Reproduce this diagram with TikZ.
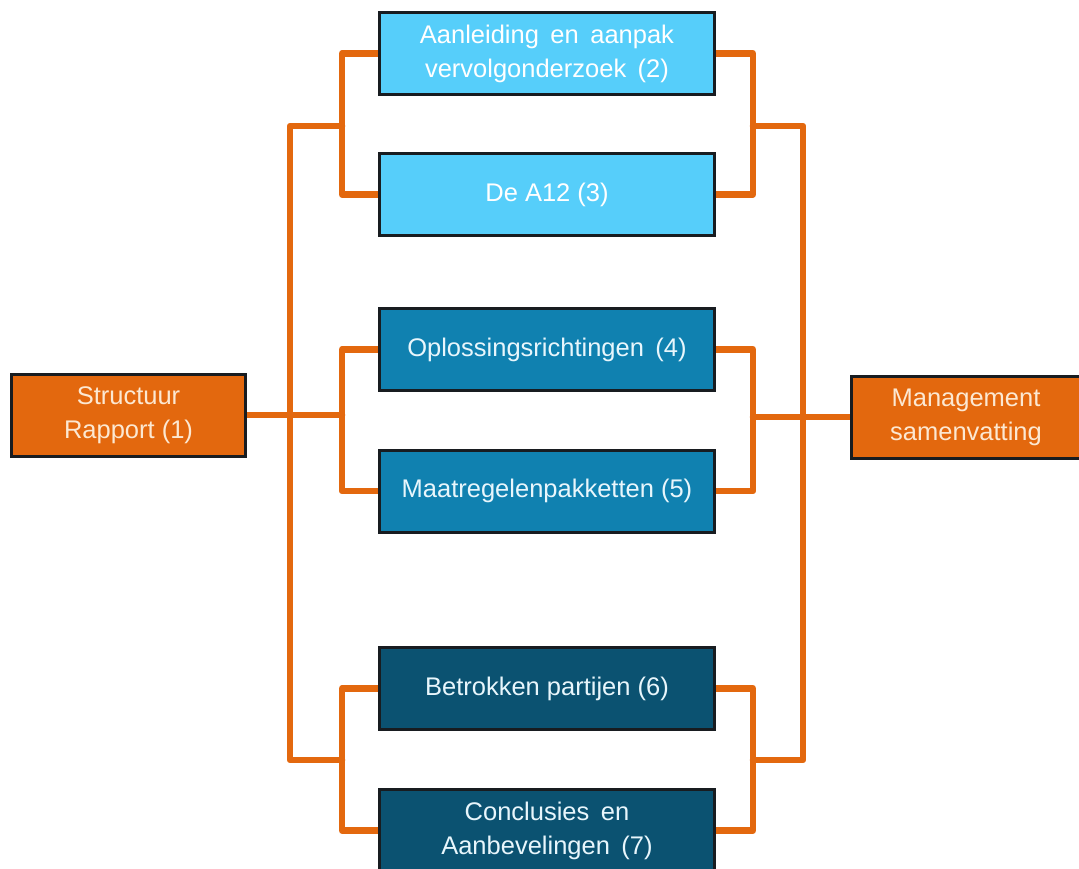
\documentclass[tikz,border=0pt]{standalone}
\usepackage{fontspec}
\setmainfont{Liberation Sans}
\definecolor{orng}{RGB}{227,104,14}
\definecolor{lblue}{RGB}{86,206,250}
\definecolor{mblue}{RGB}{16,129,176}
\definecolor{dblue}{RGB}{11,82,113}
\definecolor{bord}{RGB}{24,28,32}
\definecolor{cream}{RGB}{252,232,210}
\definecolor{paleb}{RGB}{232,246,252}
\newcommand\wsp{\hspace{11.5pt}}
\pgfdeclarelayer{background}
\pgfsetlayers{background,main}
\begin{document}
\begin{tikzpicture}[x=1pt,y=-1pt,
  box/.style={draw=bord, line width=3pt, minimum width=335pt, minimum height=82pt,
    inner sep=2pt, align=center, font=\fontsize{25.5}{34}\selectfont, text=white},
  conn/.style={draw=orng, line width=6.5pt, line join=round, line cap=round}]
\useasboundingbox (0,0) rectangle (1079,868);
\clip (0,0) rectangle (1079,868);

% side boxes
\node[box, fill=orng, text=cream, minimum width=234pt] (s) at (128.5,415) {Structuur\\Rapport (1)};
\node[box, fill=orng, text=cream, minimum width=229pt] (m) at (966,417) {Management\\samenvatting};

% middle column
\node[box, fill=lblue] (b2) at (547,53.5) {Aanleiding\wsp en\wsp aanpak\\vervolgonderzoek\wsp (2)};
\node[box, fill=lblue] (b3) at (547,194.5) {De A12 (3)};
\node[box, fill=mblue, text=paleb] (b4) at (547,349.5) {Oplossingsrichtingen\wsp (4)};
\node[box, fill=mblue, text=paleb] (b5) at (547,491) {Maatregelenpakketten (5)};
\node[box, fill=dblue, text=paleb] (b6) at (547,688.5) {Betrokken partijen (6)};
\node[box, fill=dblue, text=paleb] (b7) at (547,830.5) {Conclusies\wsp en\\Aanbevelingen\wsp (7)};

% junctions
\coordinate (jl1) at (342,126);
\coordinate (jl2) at (342,414);
\coordinate (jl3) at (342,760);
\coordinate (lo1) at (290,126);
\coordinate (lo3) at (290,760);
\coordinate (jr1) at (753,126);
\coordinate (jr2) at (753,417);
\coordinate (jr3) at (753,760);
\coordinate (ro1) at (803,126);
\coordinate (ro3) at (803,760);

\begin{pgfonlayer}{background}
\fill[white] (0,0) rectangle (1079,868);
% left side
\draw[conn] (b2.west) -| (jl1) |- (b3.west);
\draw[conn] (b4.west) -| (jl2) |- (b5.west);
\draw[conn] (b6.west) -| (jl3) |- (b7.west);
\draw[conn] (jl1) -- (lo1) -- (lo3) -- (jl3);
\draw[conn] (s.east) -- (s.east -| jl2);
% right side
\draw[conn] (b2.east) -| (jr1) |- (b3.east);
\draw[conn] (b4.east) -| (jr2) |- (b5.east);
\draw[conn] (b6.east) -| (jr3) |- (b7.east);
\draw[conn] (jr1) -- (ro1) -- (ro3) -- (jr3);
\draw[conn] (m.west) -- (m.west -| jr2);
\end{pgfonlayer}
\end{tikzpicture}
\end{document}
